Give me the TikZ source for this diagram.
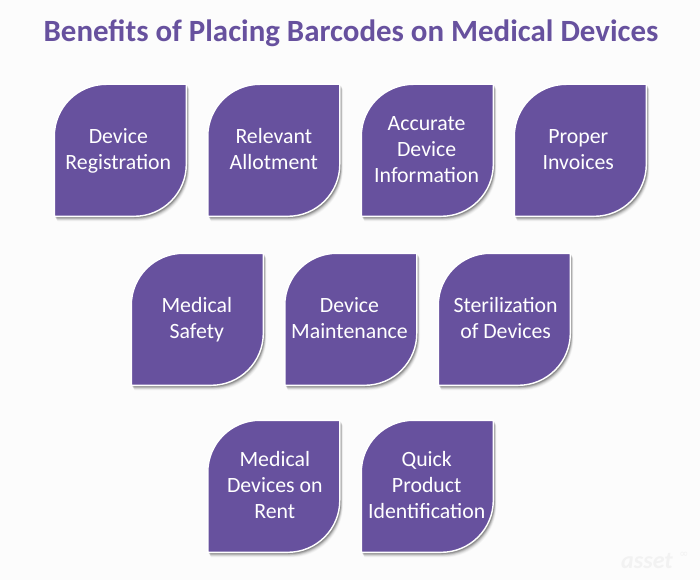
\documentclass[tikz,border=0pt]{standalone}
\usepackage{fontspec}
\setmainfont{Carlito}
\newfontfamily\symfont{DejaVu Sans}
\definecolor{leafpurple}{HTML}{67519E}
\definecolor{pagebg}{HTML}{FCFCFC}
\definecolor{markgrey}{HTML}{F2F2F2}
\newcommand{\leafpath}[3]{%
  (#1,#2+#3) arc[start angle=180,end angle=270,radius=#3] -- (#1+132,#2) -- (#1+132,#2+132-#3)
  arc[start angle=0,end angle=90,radius=#3] -- (#1,#2+132) -- cycle}
\newcommand{\leafnode}[5]{%
  \foreach \d/\o in {8/0.02,7/0.03,6/0.04,5/0.05,4/0.07,3/0.09,2/0.11,1/0.13}{
    \begin{scope}[shift={(\d*0.3+0.8,\d*0.55+0.8)}]
      \fill[black,opacity=\o] \leafpath{#2-0.7}{#3-0.7}{52};
    \end{scope}
  }
  \path[leafshape] \leafpath{#2-0.7}{#3-0.7}{52};
  \node[leaflabel] (#1) at (#2+64.3+#5,#3+66.3) {\strut#4\strut};
}
\tikzset{
  leafshape/.style={fill=leafpurple,draw=white,line width=1.4pt},
  leaflabel/.style={text=white,align=center,font=\fontsize{21.8}{26.2}\selectfont,inner sep=0pt},
  titletext/.style={text=leafpurple,font=\fontsize{30.9}{36}\bfseries\selectfont,inner sep=0pt},
  marktext/.style={text=markgrey,font=\fontsize{24}{26}\bfseries\itshape\selectfont,inner sep=0pt}
}
\begin{document}
\begin{tikzpicture}[x=1pt,y=-1pt]
\useasboundingbox (0,0) rectangle (700,580);
\fill[pagebg] (0,0) rectangle (700,580);
\node[titletext] (title) at (351,33.5) {Benefits of Placing Barcodes on Medical Devices};
\leafnode{a1}{55}{85}{Device\\Registration}{-1}
\leafnode{a2}{208.5}{85}{Relevant\\Allotment}{1}
\leafnode{a3}{362}{85}{Accurate\\Device\\Information}{0.3}
\leafnode{a4}{515}{85}{Proper\\Invoices}{-1}
\leafnode{b1}{132}{254}{Medical\\Safety}{0.5}
\leafnode{b2}{285.5}{254}{Device\\Maintenance}{-0.3}
\leafnode{b3}{439}{254}{Sterilization\\of Devices}{2.3}
\leafnode{c1}{208.5}{421}{Medical\\Devices on\\Rent}{2}
\leafnode{c2}{362}{421}{Quick\\Product\\Identification}{0.4}
\node[marktext] (mark) at (647,561) {asset};
\node[text=markgrey,font=\symfont\fontsize{11}{11}\selectfont,inner sep=0pt] (markinf) at (684,555) {∞};
\end{tikzpicture}
\end{document}
